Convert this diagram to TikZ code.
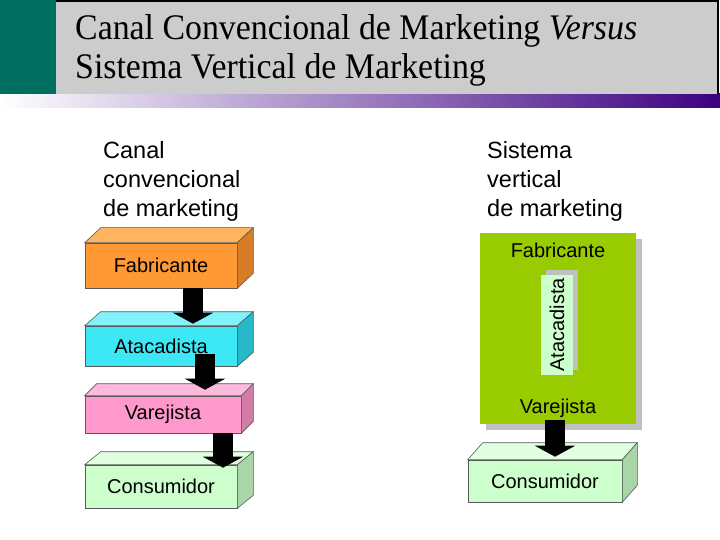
\documentclass[tikz,border=0pt]{standalone}
\usepackage{fontspec}
\setmainfont{Liberation Sans}
\newfontfamily\titlefont[FakeStretch=0.94]{Liberation Serif}
\usepackage{tikz}
\usepackage{xcolor}
\usetikzlibrary{arrows.meta}
\usetikzlibrary{shadows}

\definecolor{titleteal}{RGB}{0,110,95}
\definecolor{titlegray}{RGB}{204,204,204}
\definecolor{barpurple}{RGB}{60,0,130}
\definecolor{barmid}{RGB}{214,210,224}
\definecolor{fabfront}{RGB}{255,153,51}
\definecolor{fabtop}{RGB}{255,180,95}
\definecolor{fabside}{RGB}{215,125,40}
\definecolor{atafront}{RGB}{60,232,245}
\definecolor{atatop}{RGB}{130,242,250}
\definecolor{ataside}{RGB}{40,185,200}
\definecolor{varfront}{RGB}{255,153,204}
\definecolor{vartop}{RGB}{255,185,220}
\definecolor{varside}{RGB}{210,125,168}
\definecolor{confront}{RGB}{204,255,204}
\definecolor{contop}{RGB}{225,255,225}
\definecolor{conside}{RGB}{168,214,168}
\definecolor{vmsgreen}{RGB}{153,204,0}
\definecolor{shadowgray}{RGB}{192,192,192}

% front face of a box plus its top and right faces
\newcommand{\boxfaces}[4]{%
  \filldraw[edge, fill=#4top] (#1.north west) -- ++(#2,#3) -- ([shift={(#2,#3)}]#1.north east) -- (#1.north east) -- cycle;
  \filldraw[edge, fill=#4side] (#1.north east) -- ++(#2,#3) -- ([shift={(#2,#3)}]#1.south east) -- (#1.south east) -- cycle;
}

\begin{document}
\begin{tikzpicture}[x=1pt, y=-1pt]
        % Style definitions
        \tikzset{
            edge/.style={draw=black!65, line width=0.6pt},
            face/.style={edge, inner sep=0pt, font=\fontsize{20}{24}\selectfont},
            lbl/.style={inner sep=0pt, font=\fontsize{20}{24}\selectfont},
            heading/.style={inner sep=0pt, anchor=north west, align=left, font=\fontsize{23.5}{29}\selectfont},
            flow/.style={black, line width=20pt, -{Triangle[width=40pt, length=11pt]}},
            shadowed/.style 2 args={general shadow={fill=shadowgray, shadow xshift=#1, shadow yshift=#2}}
        }
        \useasboundingbox (0,0) rectangle (720,540);

        % ==========================================
        % TITLE
        % ==========================================
        \shade[left color=white, middle color=barmid, right color=barpurple] (0,94) rectangle (720,108);
        \fill[titleteal] (0,0) rectangle (56,94);
        \fill[titlegray] (56,0) rectangle (718,94);
        \draw[black, line width=2.5pt] (56,1) -- (718,1) -- (718,94);
        \node[anchor=base west, inner sep=0pt, font=\titlefont\fontsize{36}{40}\selectfont] (title1) at (75,40) {Canal Convencional de Marketing \textit{Versus}};
        \node[anchor=base west, inner sep=0pt, font=\titlefont\fontsize{36}{40}\selectfont] (title2) at (75,79) {Sistema Vertical de Marketing};

        \node[heading] (headconv) at (103,141) {Canal\\convencional\\de marketing};
        \node[heading] (headvert) at (487,141) {Sistema\\vertical\\de marketing};

        % ==========================================
        % CONVENTIONAL CHANNEL
        % ==========================================
        \node[face, fill=fabfront, minimum width=152pt, minimum height=45pt] (fab) at (161,265.5) {Fabricante};
        \boxfaces{fab}{16}{-15}{fab}
        \node[face, fill=atafront, minimum width=152pt, minimum height=40pt] (ata) at (161,346) {Atacadista};
        \boxfaces{ata}{16}{-14}{ata}
        \node[face, fill=varfront, minimum width=156pt, minimum height=37pt] (var) at (163,414.5) {Varejista};
        \boxfaces{var}{12}{-12}{var}
        \node[face, fill=confront, minimum width=152pt, minimum height=43pt] (con) at (161,486.5) {Consumidor};
        \boxfaces{con}{16}{-13}{con}

        \draw[flow] ([xshift=32pt]fab.south) -- ([xshift=32pt, yshift=2pt]ata.north);
        \draw[flow] ([xshift=44pt, yshift=12pt]ata.south) -- ([xshift=42pt, yshift=6pt]var.north);
        \draw[flow] ([xshift=60pt]var.south) -- ([xshift=62pt, yshift=-3pt]con.north);

        % ==========================================
        % VERTICAL SYSTEM
        % ==========================================
        \node[shadowed={6pt}{-6pt}, fill=vmsgreen, inner sep=0pt, minimum width=156pt, minimum height=191pt] (vms) at (558,328.5) {};
        \node[lbl] (vmsfab) at (558,250) {Fabricante};
        \node[shadowed={5pt}{5pt}, fill=confront, inner sep=0pt, minimum width=32pt, minimum height=100pt] (vmsata) at (557,325) {};
        \node[lbl, rotate=90] (vmsatalbl) at (vmsata) {Atacadista};
        \node[lbl] (vmsvar) at (558,408) {Varejista};
        \node[face, fill=confront, minimum width=154pt, minimum height=42pt] (vmscon) at (545,481) {Consumidor};
        \boxfaces{vmscon}{15}{-17}{con}

        \draw[flow] ([xshift=-3pt, yshift=4pt]vms.south) -- ([xshift=10pt, yshift=3pt]vmscon.north);
    \end{tikzpicture}
\end{document}
